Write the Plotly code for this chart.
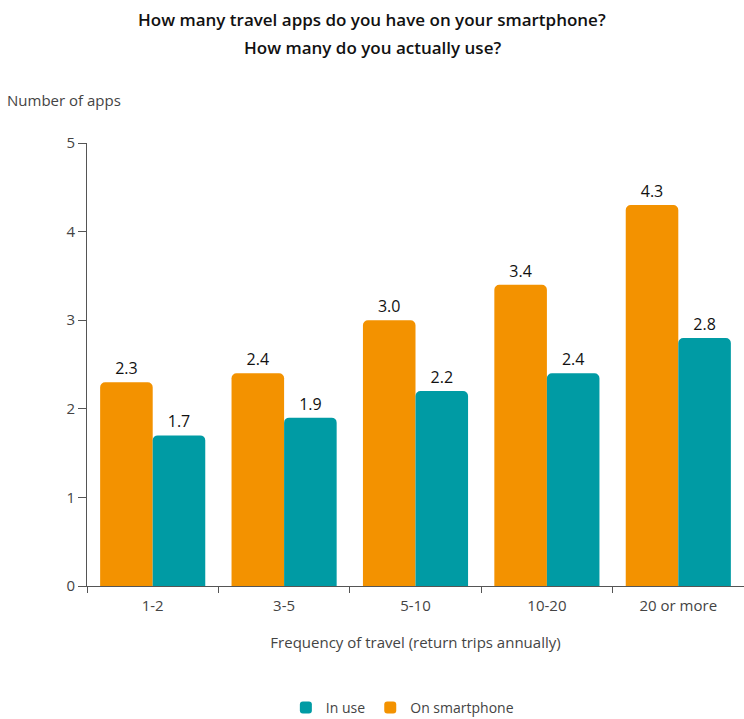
import plotly.graph_objects as go

categories = ["1-2", "3-5", "5-10", "10-20", "20 or more"]
on_smartphone = [2.3, 2.4, 3.0, 3.4, 4.3]
in_use = [1.7, 1.9, 2.2, 2.4, 2.8]

ORANGE = "#F39200"
TEAL = "#009BA4"
FONT = "Open Sans"

PLOT_TOP, PLOT_H, PLOT_L, PLOT_W = 143, 443, 87, 657


def py(px):
    """Convert a pixel row (from top of page) to paper y."""
    return 1 + (PLOT_TOP - px) / PLOT_H


fig = go.Figure()
fig.add_trace(go.Bar(
    x=categories, y=on_smartphone, name="On smartphone",
    marker=dict(color=ORANGE, line=dict(width=0)),
    text=[f"{v:.1f}" for v in on_smartphone], textposition="outside",
    textfont=dict(size=16, color="#111111", family=FONT),
    cliponaxis=False, legendrank=2,
))
fig.add_trace(go.Bar(
    x=categories, y=in_use, name="In use",
    marker=dict(color=TEAL, line=dict(width=0)),
    text=[f"{v:.1f}" for v in in_use], textposition="outside",
    textfont=dict(size=16, color="#111111", family=FONT),
    cliponaxis=False, legendrank=1,
))

fig.update_layout(
    width=744, height=719,
    margin=dict(l=PLOT_L, r=0, t=PLOT_TOP, b=133, autoexpand=False),
    paper_bgcolor="white", plot_bgcolor="white",
    barmode="group", bargap=0.2, bargroupgap=0.0,
    barcornerradius=5,
    font=dict(family=FONT, color="#444444", size=15),
    showlegend=True,
    legend=dict(
        orientation="h", x=0.48, xanchor="center", y=py(708), yanchor="middle",
        font=dict(size=14, color="#444444", family=FONT),
        itemwidth=30,
    ),
    xaxis=dict(
        automargin=False,
        showgrid=False, showline=True, linecolor="#555555", linewidth=1,
        ticks="outside", tickson="boundaries", ticklen=6, tickcolor="#555555",
        ticklabelstandoff=6,
        tickfont=dict(size=15, color="#444444"),
        title=dict(text="Frequency of travel (return trips annually)",
                   font=dict(size=15, color="#444444"), standoff=23),
    ),
    yaxis=dict(
        automargin=False,
        range=[0, 5], dtick=1, showgrid=False, zeroline=False,
        showline=True, linecolor="#555555", linewidth=1,
        ticks="outside", ticklen=8, tickcolor="#555555",
        tickfont=dict(size=15, color="#444444"),
    ),
    annotations=[
        dict(
            text="How many travel apps do you have on your smartphone?",
            xref="paper", yref="paper", x=(372 - PLOT_L) / PLOT_W, y=py(20),
            xanchor="center", yanchor="middle", showarrow=False,
            font=dict(size=17, color="#111111", family=FONT, weight=600),
        ),
        dict(
            text="How many do you actually use?",
            xref="paper", yref="paper", x=(372 - PLOT_L) / PLOT_W, y=py(47),
            xanchor="center", yanchor="middle", showarrow=False,
            font=dict(size=17, color="#111111", family=FONT, weight=600),
        ),
        dict(
            text="Number of apps", xref="paper", yref="paper",
            x=(5 - PLOT_L) / PLOT_W, y=py(100),
            xanchor="left", yanchor="middle",
            showarrow=False, font=dict(size=15, color="#444444"),
        ),
    ],
)

fig.write_html("out.html")
